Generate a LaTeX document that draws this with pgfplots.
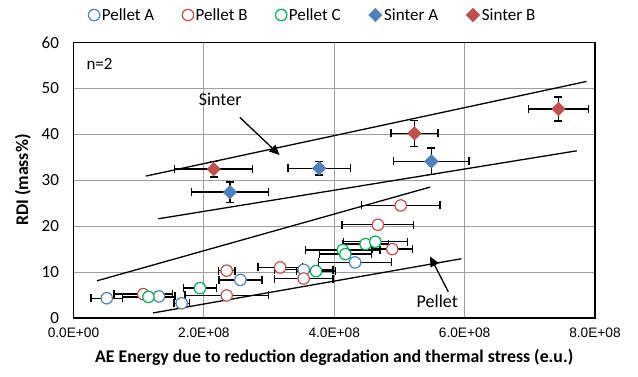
\documentclass[border=0pt]{standalone}
\usepackage{pgfplots}
\pgfplotsset{compat=1.18}
\usepackage{fontspec}
\setmainfont{Carlito}
\newfontfamily\arialfont{Liberation Sans}
\usetikzlibrary{arrows.meta}
\definecolor{cA}{HTML}{4F81BD}
\definecolor{cB}{HTML}{C0504D}
\definecolor{cC}{HTML}{00B050}
\begin{document}
\begin{tikzpicture}
\useasboundingbox (-73.5pt,-58pt) rectangle (564.5pt,318pt);
\begin{axis}[
  scale only axis, width=521.5pt, height=275.6pt,
  xmin=0, xmax=8e8, ymin=0, ymax=60,
  xtick={0,2e8,4e8,6e8,8e8},
  xticklabels={0.0E+00,2.0E+08,4.0E+08,6.0E+08,8.0E+08},
  scaled x ticks=false,
  ytick={0,10,...,60},
  xmajorgrids, ymajorgrids,
  grid style={draw=gray!75, line width=1.1pt},
  axis line style={black, line width=1.2pt},
  major tick length=0pt,
  /pgf/number format/assume math mode=true,
  xticklabel style={font=\arialfont\fontsize{13.7}{13.7}\selectfont, yshift=-6pt},
  yticklabel style={font=\fontsize{17}{17}\selectfont, xshift=-11pt},
  xlabel={AE Energy due to reduction degradation and thermal stress (e.u.)},
  ylabel={RDI (mass\%)},
  xlabel style={font=\bfseries\fontsize{17.8}{17.8}\selectfont, at={(axis description cs:0.5,-0.1415)}, anchor=center},
  ylabel style={font=\bfseries\fontsize{17.8}{17.8}\selectfont, at={(axis description cs:-0.097,0.5)}, anchor=center},
  legend style={at={(axis description cs:0.459,1)}, anchor=center, yshift=27.4pt, draw=none, fill=none,
    legend columns=5, font=\fontsize{17}{17}\selectfont,
    /tikz/every even column/.append style={column sep=26pt}},
  legend cell align=left,
  error bars/error bar style={black, line width=1.4pt},
  error bars/error mark options={black, line width=1.4pt, mark size=4pt, rotate=90},
]
% trend lines
\addplot[black, line width=1.3pt, forget plot] coordinates {(1.11e8,30.9) (7.87e8,51.5)};
\addplot[black, line width=1.3pt, forget plot] coordinates {(1.30e8,21.6) (7.72e8,36.4)};
\addplot[black, line width=1.3pt, forget plot] coordinates {(0.36e8,8.1) (5.47e8,28.5)};
\addplot[black, line width=1.3pt, forget plot] coordinates {(1.22e8,1.1) (5.95e8,12.9)};
% Pellet A
\addplot[only marks, mark=*, mark size=5.7pt, mark options={draw=cA, fill=white, line width=1.2pt},
  error bars/.cd, x dir=both, x explicit]
  coordinates {
  (0.51e8,4.3) +- (0.24e8,0)
  (1.31e8,4.7) +- (0.25e8,0)
  (1.66e8,3.2) +- (0.12e8,0)
  (2.56e8,8.3) +- (0.33e8,0)
  (3.53e8,10.5) +- (0.45e8,0)
  (4.32e8,12.1) +- (0.56e8,0)
  };
\addlegendentry{Pellet A}
% Pellet B
\addplot[only marks, mark=*, mark size=5.7pt, mark options={draw=cB, fill=white, line width=1.2pt},
  error bars/.cd, x dir=both, x explicit]
  coordinates {
  (1.07e8,5.2) +- (0.45e8,0)
  (2.35e8,10.3) +- (0.13e8,0)
  (2.35e8,4.9) +- (0.64e8,0)
  (3.17e8,11.0) +- (0.34e8,0)
  (3.53e8,8.6) +- (0.45e8,0)
  (4.89e8,15.0) +- (0.31e8,0)
  (4.67e8,20.3) +- (0.55e8,0)
  (5.02e8,24.5) +- (0.60e8,0)
  };
\addlegendentry{Pellet B}
% Pellet C
\addplot[only marks, mark=*, mark size=5.7pt, mark options={draw=cC, fill=white, line width=1.2pt},
  error bars/.cd, x dir=both, x explicit]
  coordinates {
  (1.15e8,4.6) +- (0.40e8,0)
  (1.94e8,6.5) +- (0.25e8,0)
  (3.72e8,10.2) +- (0.30e8,0)
  (4.13e8,14.8) +- (0.57e8,0)
  (4.17e8,13.9) +- (0.40e8,0)
  (4.48e8,16.1) +- (0.35e8,0)
  (4.63e8,16.6) +- (0.49e8,0)
  };
\addlegendentry{Pellet C}
% Sinter A
\addplot[only marks, mark=square*, mark size=4.8pt, mark options={draw=cA, fill=cA, rotate=45},
  error bars/.cd, x dir=both, x explicit, y dir=both, y explicit]
  coordinates {
  (2.40e8,27.4) +- (0.59e8,2.2)
  (3.77e8,32.6) +- (0.48e8,1.5)
  (5.49e8,34.1) +- (0.58e8,2.9)
  };
\addlegendentry{Sinter A}
% Sinter B
\addplot[only marks, mark=square*, mark size=4.8pt, mark options={draw=cB, fill=cB, rotate=45},
  error bars/.cd, x dir=both, x explicit, y dir=both, y explicit]
  coordinates {
  (2.15e8,32.4) +- (0.60e8,1.7)
  (5.23e8,40.2) +- (0.36e8,2.8)
  (7.44e8,45.5) +- (0.46e8,2.6)
  };
\addlegendentry{Sinter B}
% annotations
\draw[black, line width=1.3pt, -{Triangle[length=10pt,width=9pt]}] (axis cs:2.55e8,43.7) -- (axis cs:3.16e8,35.5);
\draw[black, line width=1.3pt, -{Triangle[length=10pt,width=9pt]}] (axis cs:5.75e8,5.7) -- (axis cs:5.47e8,13.4);
\node[font=\fontsize{18}{18}\selectfont] at (axis cs:2.25e8,47.5) {Sinter};
\node[font=\fontsize{18}{18}\selectfont] at (axis cs:5.58e8,3.6) {Pellet};
\node[font=\fontsize{17}{17}\selectfont] at (axis cs:0.40e8,55.2) {n=2};
\end{axis}
\end{tikzpicture}
\end{document}
